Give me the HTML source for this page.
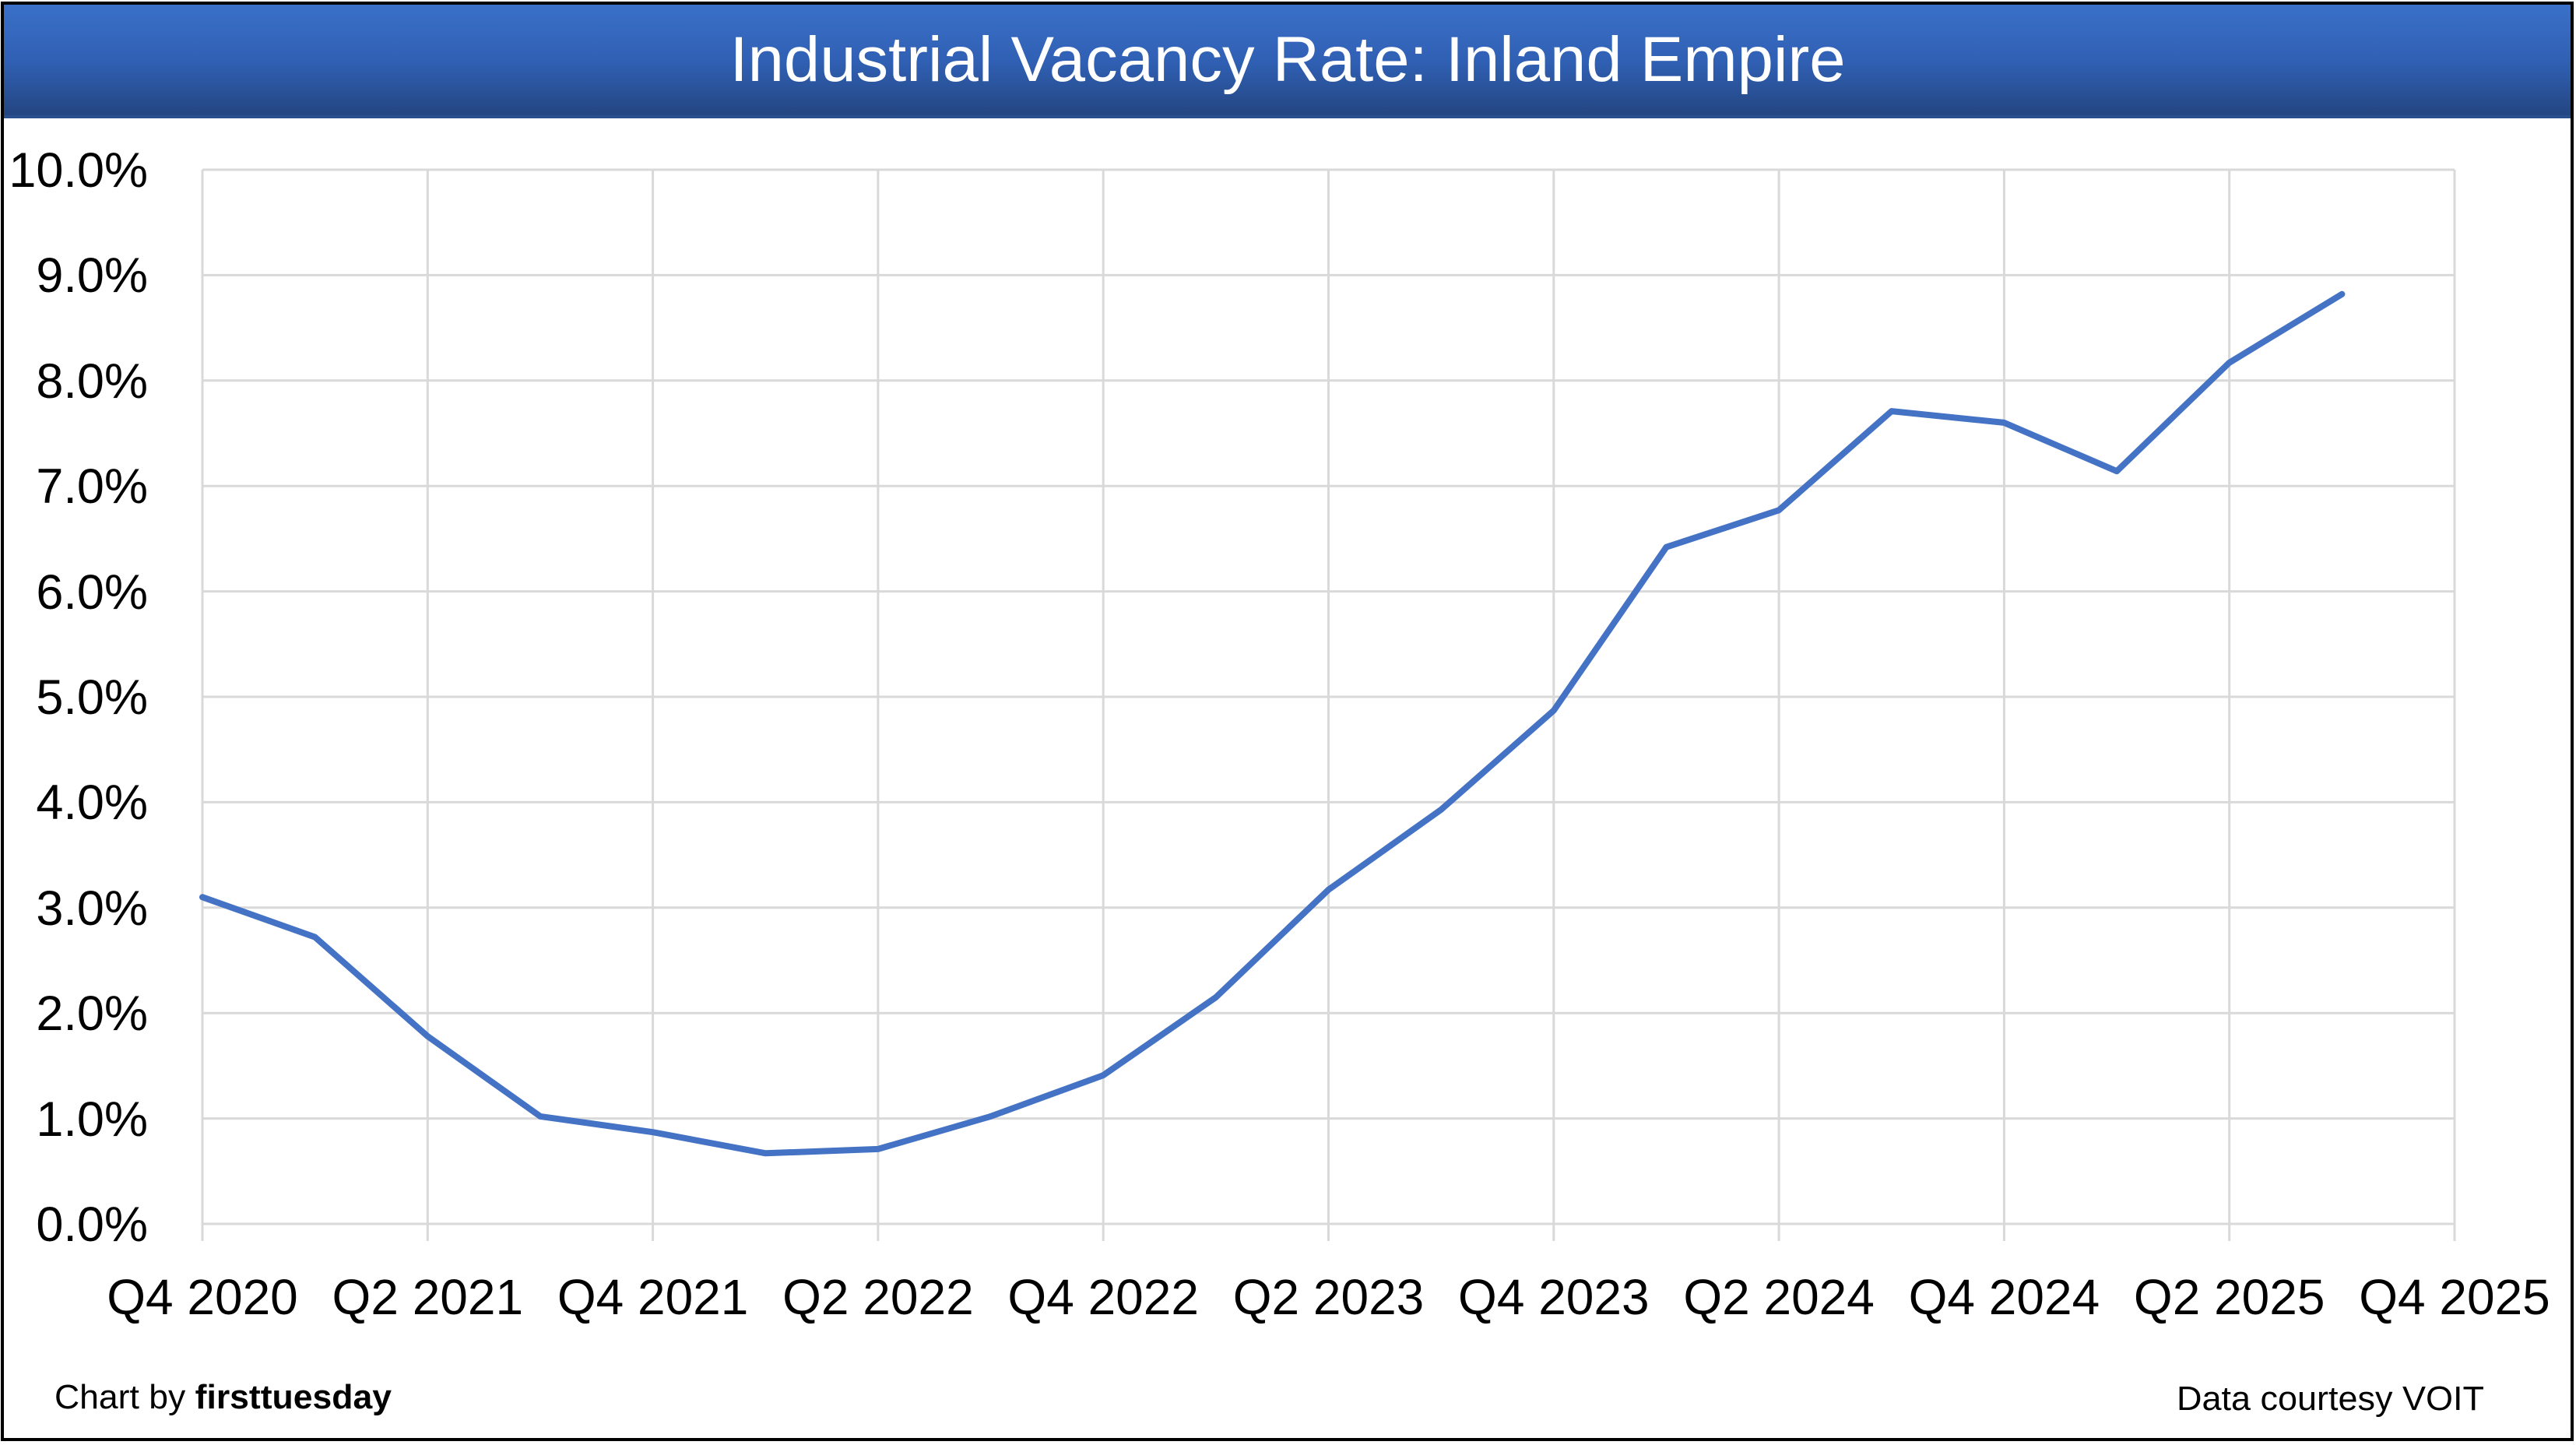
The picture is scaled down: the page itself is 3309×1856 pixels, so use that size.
<!DOCTYPE html>
<html><head><meta charset="utf-8"><style>
html,body{margin:0;padding:0;background:#fff;}
svg{display:block;}
text{font-family:"Liberation Sans",sans-serif;fill:#000;}
</style></head><body>
<svg width="3309" height="1856" viewBox="0 0 3309 1856" xmlns="http://www.w3.org/2000/svg">
<defs>
<linearGradient id="tb" x1="0" y1="0" x2="0" y2="1">
<stop offset="0" stop-color="#3a70c8"/>
<stop offset="0.5" stop-color="#3060b4"/>
<stop offset="1" stop-color="#23447e"/>
</linearGradient>
</defs>
<rect x="0" y="0" width="3309" height="1856" fill="#fff"/>
<rect x="3" y="6" width="3302" height="146" fill="url(#tb)"/>
<rect x="3" y="148" width="3302" height="4" fill="#2a4f8e"/>
<text x="1654" y="104" font-size="82" text-anchor="middle" style="fill:#fff" textLength="1433" lengthAdjust="spacingAndGlyphs">Industrial Vacancy Rate: Inland Empire</text>
<rect x="3" y="4" width="3301" height="1845" fill="none" stroke="#000" stroke-width="4"/>
<g stroke="#d9d9d9" stroke-width="3">
<line x1="260" y1="218" x2="3153" y2="218"/>
<line x1="260" y1="353.4" x2="3153" y2="353.4"/>
<line x1="260" y1="488.8" x2="3153" y2="488.8"/>
<line x1="260" y1="624.2" x2="3153" y2="624.2"/>
<line x1="260" y1="759.6" x2="3153" y2="759.6"/>
<line x1="260" y1="895" x2="3153" y2="895"/>
<line x1="260" y1="1030.4" x2="3153" y2="1030.4"/>
<line x1="260" y1="1165.8" x2="3153" y2="1165.8"/>
<line x1="260" y1="1301.2" x2="3153" y2="1301.2"/>
<line x1="260" y1="1436.6" x2="3153" y2="1436.6"/>
<line x1="260" y1="1572" x2="3153" y2="1572"/>
<line x1="260" y1="218" x2="260" y2="1594"/>
<line x1="549.3" y1="218" x2="549.3" y2="1594"/>
<line x1="838.6" y1="218" x2="838.6" y2="1594"/>
<line x1="1127.9" y1="218" x2="1127.9" y2="1594"/>
<line x1="1417.2" y1="218" x2="1417.2" y2="1594"/>
<line x1="1706.5" y1="218" x2="1706.5" y2="1594"/>
<line x1="1995.8" y1="218" x2="1995.8" y2="1594"/>
<line x1="2285.1" y1="218" x2="2285.1" y2="1594"/>
<line x1="2574.4" y1="218" x2="2574.4" y2="1594"/>
<line x1="2863.7" y1="218" x2="2863.7" y2="1594"/>
<line x1="3153" y1="218" x2="3153" y2="1594"/>
</g>
<g font-size="63" text-anchor="end">
<text x="190" y="240">10.0%</text>
<text x="190" y="375">9.0%</text>
<text x="190" y="511">8.0%</text>
<text x="190" y="646">7.0%</text>
<text x="190" y="782">6.0%</text>
<text x="190" y="917">5.0%</text>
<text x="190" y="1052">4.0%</text>
<text x="190" y="1188">3.0%</text>
<text x="190" y="1323">2.0%</text>
<text x="190" y="1459">1.0%</text>
<text x="190" y="1594">0.0%</text>
</g>
<g font-size="64" text-anchor="middle">
<text x="260" y="1688">Q4 2020</text>
<text x="549.3" y="1688">Q2 2021</text>
<text x="838.6" y="1688">Q4 2021</text>
<text x="1127.9" y="1688">Q2 2022</text>
<text x="1417.2" y="1688">Q4 2022</text>
<text x="1706.5" y="1688">Q2 2023</text>
<text x="1995.8" y="1688">Q4 2023</text>
<text x="2285.1" y="1688">Q2 2024</text>
<text x="2574.4" y="1688">Q4 2024</text>
<text x="2863.7" y="1688">Q2 2025</text>
<text x="3153" y="1688">Q4 2025</text>
</g>
<polyline fill="none" stroke="#4472c4" stroke-width="8" stroke-linejoin="round" stroke-linecap="round"
points="260,1152.3 404.7,1203.7 549.3,1331 694,1433.9 838.6,1454.2 983.3,1481.3 1127.9,1475.9 1272.6,1433.9 1417.2,1381.1 1561.9,1280.9 1706.5,1142.8 1851.2,1039.9 1995.8,912.6 2140.5,702.7 2285.1,655.3 2429.8,528.1 2574.4,542.9 2719.1,605.2 2863.7,465.8 3008.4,377.8"/>
<text x="70" y="1809" font-size="44" textLength="433" lengthAdjust="spacingAndGlyphs">Chart by <tspan font-weight="bold">firsttuesday</tspan></text>
<text x="2796" y="1811" font-size="44" textLength="395" lengthAdjust="spacingAndGlyphs">Data courtesy VOIT</text>
</svg>
</body></html>
